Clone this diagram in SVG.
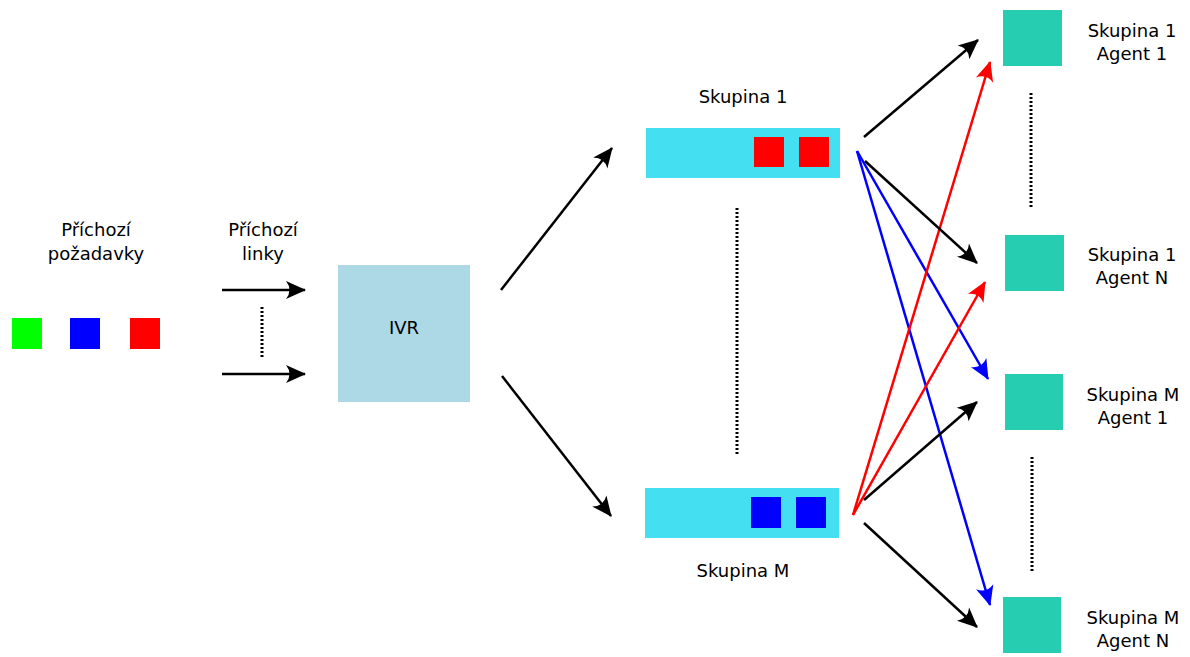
<svg xmlns="http://www.w3.org/2000/svg" width="1190" height="657" viewBox="0 0 1190 657">
<defs>
<style>
text{font-family:"DejaVu Sans","Liberation Sans",sans-serif;font-size:18px;fill:#000;text-anchor:middle}
.ln{stroke-width:2.5;fill:none}
.k{stroke:#000}.r{stroke:#f00}.b{stroke:#00f}
.dot{stroke:#000;stroke-width:3;stroke-dasharray:2,2;fill:none}
.agent{fill:#26cdb0}
.queue{fill:#44e0f2}
</style>
<marker id="ak" markerUnits="userSpaceOnUse" orient="auto" refX="0" refY="0" markerWidth="24" markerHeight="24" overflow="visible"><path d="M1,0 L-19,-9 Q-12,0 -19,9 Z" fill="#000"/></marker>
<marker id="ar" markerUnits="userSpaceOnUse" orient="auto" refX="0" refY="0" markerWidth="24" markerHeight="24" overflow="visible"><path d="M1,0 L-19,-9 Q-12,0 -19,9 Z" fill="#f00"/></marker>
<marker id="ab" markerUnits="userSpaceOnUse" orient="auto" refX="0" refY="0" markerWidth="24" markerHeight="24" overflow="visible"><path d="M1,0 L-19,-9 Q-12,0 -19,9 Z" fill="#00f"/></marker>
</defs>
<g id="requests">
<rect x="12" y="318" width="30" height="31" fill="#0f0"/>
<rect x="70" y="318" width="30" height="31" fill="#00f"/>
<rect x="130" y="318" width="30" height="31" fill="#f00"/>
<text x="96" y="236">Příchozí</text>
<text x="96" y="260">požadavky</text>
</g>
<g id="lines-label">
<text x="263" y="236">Příchozí</text>
<text x="263" y="260">linky</text>
</g>
<g id="ivr">
<rect x="338" y="265" width="132" height="137" fill="#add8e6"/>
<text x="404" y="334">IVR</text>
</g>
<g id="queue1">
<rect class="queue" x="646" y="128" width="194" height="50"/>
<rect x="754" y="137" width="30" height="30" fill="#f00"/>
<rect x="799" y="137" width="30" height="30" fill="#f00"/>
<text x="743" y="103">Skupina 1</text>
</g>
<g id="queueM">
<rect class="queue" x="645" y="488" width="194" height="50"/>
<rect x="751" y="497" width="30" height="31" fill="#00f"/>
<rect x="796" y="497" width="30" height="31" fill="#00f"/>
<text x="743" y="577">Skupina M</text>
</g>
<g id="agent-1-1">
<rect class="agent" x="1003" y="10" width="59" height="56"/>
<text x="1132" y="37">Skupina 1</text>
<text x="1132" y="60">Agent 1</text>
</g>
<g id="agent-1-N">
<rect class="agent" x="1005" y="235" width="59" height="56"/>
<text x="1132" y="261">Skupina 1</text>
<text x="1132" y="284">Agent N</text>
</g>
<g id="agent-M-1">
<rect class="agent" x="1005" y="374" width="58" height="56"/>
<text x="1133" y="401">Skupina M</text>
<text x="1133" y="424">Agent 1</text>
</g>
<g id="agent-M-N">
<rect class="agent" x="1003" y="597" width="58" height="56"/>
<text x="1133" y="624">Skupina M</text>
<text x="1133" y="647">Agent N</text>
</g>
<g id="connectors">
<line class="ln k" x1="222" y1="290" x2="305" y2="290" marker-end="url(#ak)"/>
<line class="ln k" x1="222" y1="374" x2="305" y2="374" marker-end="url(#ak)"/>
<line class="dot" x1="262" y1="307" x2="262" y2="358"/>
<line class="ln k" x1="501" y1="290" x2="612" y2="148" marker-end="url(#ak)"/>
<line class="ln k" x1="502" y1="376" x2="611" y2="516" marker-end="url(#ak)"/>
<line class="dot" x1="737" y1="208" x2="737" y2="456"/>
<line class="dot" x1="1031" y1="93" x2="1031" y2="207"/>
<line class="dot" x1="1032" y1="457" x2="1032" y2="571"/>
<line class="ln b" x1="857" y1="151" x2="988" y2="379" marker-end="url(#ab)"/>
<line class="ln b" x1="857" y1="151" x2="990" y2="605" marker-end="url(#ab)"/>
<line class="ln r" x1="853" y1="515" x2="990" y2="62" marker-end="url(#ar)"/>
<line class="ln r" x1="853" y1="515" x2="985" y2="282" marker-end="url(#ar)"/>
<line class="ln k" x1="864" y1="137" x2="978" y2="40" marker-end="url(#ak)"/>
<line class="ln k" x1="865" y1="161" x2="977" y2="263" marker-end="url(#ak)"/>
<line class="ln k" x1="864" y1="500" x2="977" y2="402" marker-end="url(#ak)"/>
<line class="ln k" x1="864" y1="523" x2="977" y2="627" marker-end="url(#ak)"/>
</g>
</svg>
